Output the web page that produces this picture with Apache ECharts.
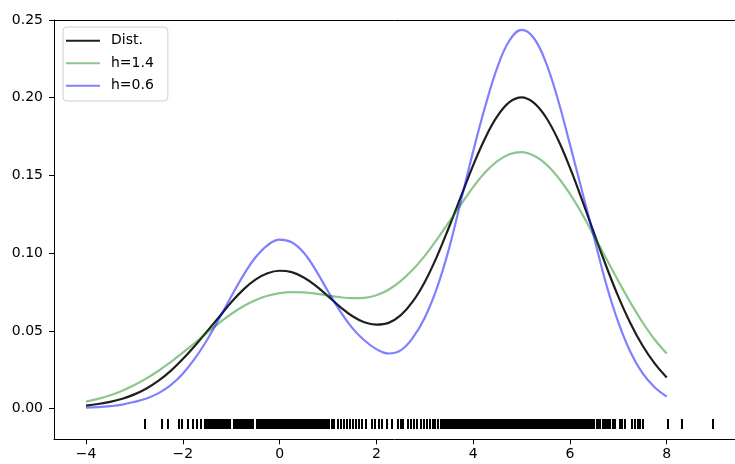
<!DOCTYPE html>
<html>
<head>
<meta charset="utf-8">
<script src="https://cdn.jsdelivr.net/npm/echarts@6/dist/echarts.min.js"></script>
<style>html,body{margin:0;padding:0;background:#fff}#c{width:735px;height:464px}</style>
</head>
<body>
<div id="c"></div>
<script>
const xs = [-4,-3.75,-3.5,-3.25,-3,-2.75,-2.5,-2.25,-2,-1.75,-1.5,-1.25,-1,-0.75,-0.5,-0.25,0,0.25,0.5,0.75,1,1.25,1.5,1.75,2,2.25,2.5,2.75,3,3.25,3.5,3.75,4,4.25,4.5,4.75,5,5.25,5.5,5.75,6,6.25,6.5,6.75,7,7.25,7.5,7.75,8];
const dist = [0.0020,0.0030,0.0044,0.0064,0.0092,0.0130,0.0180,0.0243,0.0319,0.0405,0.0497,0.0590,0.0684,0.0766,0.0830,0.0871,0.0887,0.0878,0.0844,0.0790,0.0724,0.0655,0.0596,0.0556,0.0541,0.0552,0.0600,0.0688,0.0815,0.0978,0.1167,0.1367,0.1565,0.1741,0.1881,0.1971,0.2002,0.1968,0.1876,0.1733,0.1550,0.1343,0.1127,0.0916,0.0721,0.0550,0.0406,0.0291,0.0201];
const kde14 = [0.0045,0.0063,0.0086,0.0116,0.0152,0.0195,0.0244,0.0300,0.0360,0.0424,0.0488,0.0551,0.0609,0.0659,0.0698,0.0726,0.0743,0.0750,0.0748,0.0740,0.0728,0.0717,0.0711,0.0713,0.0730,0.0765,0.0820,0.0893,0.0983,0.1088,0.1200,0.1315,0.1425,0.1520,0.1592,0.1637,0.1650,0.1628,0.1575,0.1490,0.1381,0.1253,0.1111,0.0966,0.0821,0.0683,0.0556,0.0445,0.0355];
const kde06 = [0.0007,0.0010,0.0016,0.0026,0.0044,0.0066,0.0100,0.0152,0.0225,0.0323,0.0442,0.0578,0.0721,0.0857,0.0972,0.1051,0.1087,0.1070,0.1003,0.0890,0.0755,0.0628,0.0520,0.0440,0.0383,0.0355,0.0375,0.0455,0.0585,0.0775,0.1028,0.1340,0.1655,0.1945,0.2195,0.2368,0.2437,0.2386,0.2229,0.1990,0.1700,0.1400,0.1100,0.0800,0.0555,0.0365,0.0228,0.0138,0.0078];
const samples = [-2.78,-2.42,-2.31,-2.08,-2.02,-1.89,-1.78,-1.70,-1.62,-1.54,-1.49,
-1.45,-1.42,-1.40,-1.37,-1.34,-1.32,-1.29,-1.26,-1.24,-1.18,-1.15,-1.13,-1.10,-1.07,-1.05,-1.02,-0.94,-0.91,-0.89,-0.86,-0.83,-0.81,-0.78,-0.75,-0.73,-0.70,-0.67,-0.65,-0.62,-0.59,-0.57,-0.54,-0.47,-0.45,-0.42,-0.39,-0.37,-0.34,-0.31,-0.29,-0.26,-0.23,-0.21,-0.18,-0.15,-0.13,-0.10,-0.07,-0.05,-0.02,0.01,0.03,0.06,0.09,0.11,0.14,0.17,0.19,0.22,0.25,0.27,0.30,0.33,0.35,0.38,0.41,0.43,0.46,0.49,0.51,0.54,0.57,0.59,0.62,0.65,0.67,0.70,0.73,0.75,0.78,0.81,0.83,0.86,0.89,0.91,0.94,
0.98,1.03,1.08,1.13,1.20,1.27,1.33,1.40,1.45,1.52,1.58,1.65,1.71,1.78,1.90,1.97,2.05,2.12,2.21,2.32,2.45,2.50,2.55,2.65,2.72,2.78,2.83,2.92,2.98,3.05,3.10,3.17,3.22,3.28,3.33,3.38,
3.42,3.45,3.47,3.50,3.53,3.55,3.58,3.61,3.63,3.66,3.69,3.71,3.74,3.77,3.79,3.82,3.85,3.87,3.90,3.93,3.95,3.98,4.01,4.03,4.06,4.09,4.11,4.14,4.17,4.19,4.22,4.25,4.27,4.30,4.33,4.35,4.38,4.41,4.43,4.46,4.49,4.51,4.54,4.57,4.59,4.62,4.65,4.67,4.70,4.73,4.75,4.78,4.81,4.83,4.86,4.89,4.91,4.94,4.97,4.99,5.02,5.05,5.07,5.10,5.13,5.15,5.18,5.21,5.23,5.26,5.29,5.31,5.34,5.37,5.39,5.42,5.45,5.47,5.50,5.53,5.55,5.58,5.61,5.63,5.66,5.69,5.71,5.74,5.77,5.79,5.82,5.85,5.87,5.90,5.93,5.95,5.98,6.01,6.03,6.06,6.09,6.11,6.14,6.17,6.19,6.21,
6.25,6.28,6.31,6.33,6.36,6.39,6.41,6.44,6.47,6.49,6.55,6.58,6.61,6.63,6.69,6.71,6.74,6.77,6.80,6.83,6.89,
6.93,7.04,7.07,7.14,7.28,7.34,7.40,7.45,7.50,8.03,8.32,8.95];
const rugY = -0.01;
const xTicks = [-4,-2,0,2,4,6,8];
const yTicks = [0,0.05,0.10,0.15,0.20,0.25];
const names = ['Dist.','h=1.4','h=0.6'];

const pair = (ys) => xs.map((x,i)=>[x, ys[i]]);
const font = 'DejaVu Sans';
const X_MIN = -4.662, X_MAX = 9.411;
const chart = echarts.init(document.getElementById('c'), null, {renderer:'canvas'});
chart.setOption({
  animation:false,
  backgroundColor:'#fff',
  grid:{left:54, top:20, right:0, bottom:24.7, show:false},
  xAxis:[{type:'value', min:X_MIN, max:X_MAX, position:'bottom',
    axisLine:{show:true, onZero:false, lineStyle:{color:'#000', width:1}},
    axisTick:{show:true, length:5, customValues:xTicks, lineStyle:{color:'#000', width:1}},
    axisLabel:{customValues:xTicks, margin:8, color:'#000', fontFamily:font, fontSize:14,
      formatter:(v)=> (v<0? '\u2212'+Math.abs(v) : ''+v)},
    splitLine:{show:false}},
   {type:'value', min:X_MIN, max:X_MAX, position:'top',
    axisLine:{show:true, onZero:false, lineStyle:{color:'#000', width:1}},
    axisTick:{show:false}, axisLabel:{show:false}, splitLine:{show:false}}],
  yAxis:{type:'value', min:-0.0197, max:0.25,
    axisLine:{show:true, onZero:false, lineStyle:{color:'#000', width:1}},
    axisTick:{show:true, length:5, customValues:yTicks, lineStyle:{color:'#000', width:1}},
    axisLabel:{customValues:yTicks, margin:11, color:'#000', fontFamily:font, fontSize:14,
      formatter:(v)=> v.toFixed(2)},
    splitLine:{show:false}},
  legend:{orient:'vertical', left:63, top:27, icon:'rect', itemWidth:34, itemHeight:2, itemGap:6.5,
    padding:[5.7,14,7.3,3], backgroundColor:'rgba(255,255,255,0.8)', borderColor:'#d0d0d0', borderWidth:1, borderRadius:4,
    textStyle:{fontFamily:font, fontSize:14, color:'#000', lineHeight:16, padding:[0,0,0,6]},
    data:names},
  series:[
    {name:names[0], type:'line', data:pair(dist), showSymbol:false, smooth:0.4, color:'rgba(0,0,0,0.88)', lineStyle:{width:2.2, color:'rgba(0,0,0,0.88)'}},
    {name:names[1], type:'line', data:pair(kde14), showSymbol:false, smooth:0.4, color:'rgba(0,128,0,0.45)', lineStyle:{width:2.2, color:'rgba(0,128,0,0.45)'}},
    {name:names[2], type:'line', data:pair(kde06), showSymbol:false, smooth:0.4, color:'rgba(0,0,255,0.5)', lineStyle:{width:2.2, color:'rgba(0,0,255,0.5)'}},
    {name:'rug', type:'custom', data:samples.map(s=>[s, rugY]), silent:true,
      renderItem:(params, api)=>{
        const p = api.coord([api.value(0), api.value(1)]);
        return {type:'rect', shape:{x:Math.round(p[0])-1, y:Math.round(p[1]-4.75), width:2, height:10}, style:{fill:'#000'}};
      }}
  ]
});
</script>
</body>
</html>
